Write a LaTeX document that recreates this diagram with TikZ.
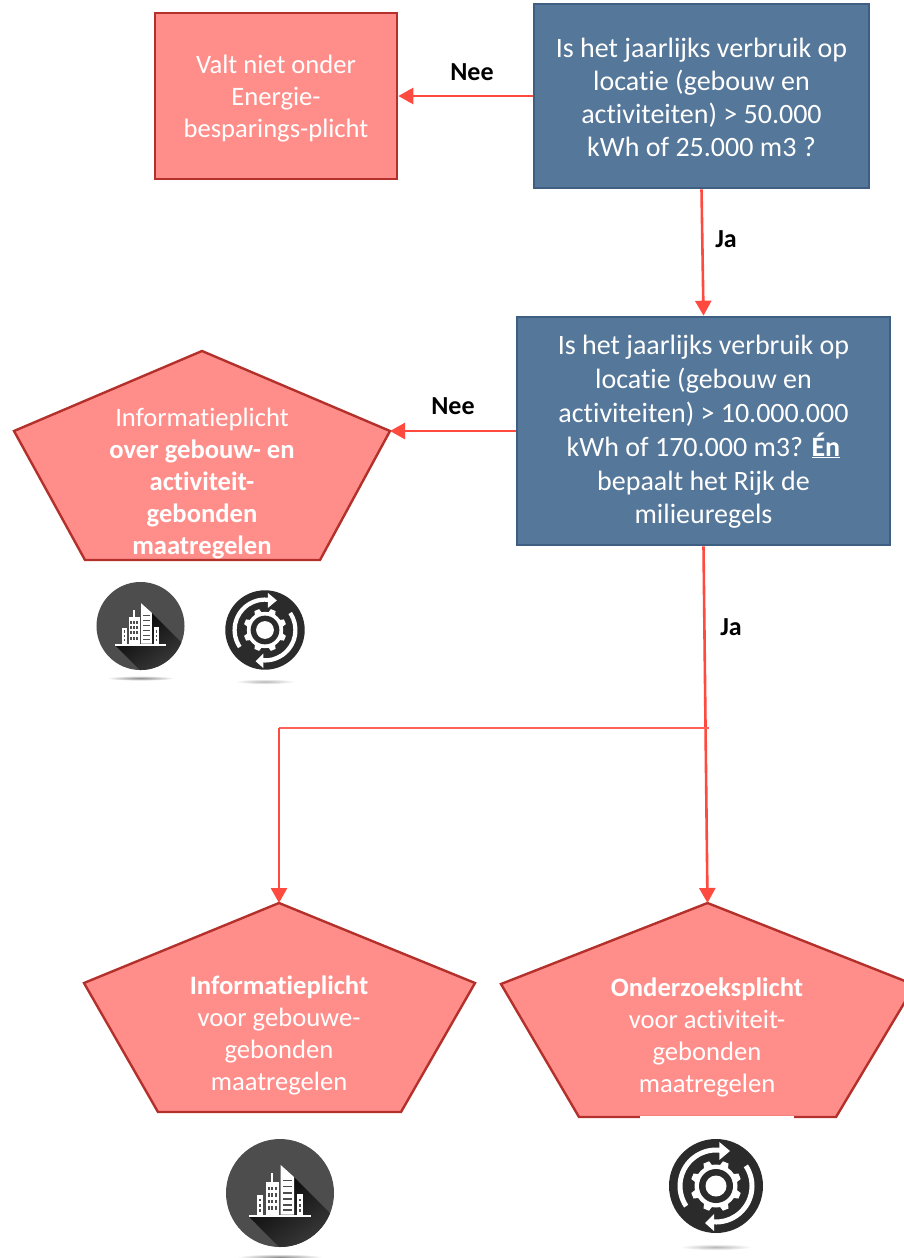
\documentclass[tikz,border=0pt]{standalone}
\usepackage{fontspec}
\setmainfont{Carlito}[Ligatures=NoCommon]
\usetikzlibrary{arrows.meta,calc}
\definecolor{redfill}{HTML}{FF8E8A}
\definecolor{redline}{HTML}{B3302B}
\definecolor{bluefill}{HTML}{557799}
\definecolor{blueline}{HTML}{3F5F82}
\definecolor{arrowred}{HTML}{FF4A40}
\definecolor{branchred}{HTML}{FF6058}
\definecolor{iconbldg}{HTML}{4D4D4D}
\definecolor{icongear}{HTML}{2B2B2B}
\tikzset{
  x=1pt,y=-1pt,
  redbox/.style={draw=redline,fill=redfill,line width=2.6pt,inner sep=0pt},
  bluebox/.style={draw=blueline,fill=bluefill,line width=2.6pt,inner sep=0pt},
  penta/.style={draw=redline,fill=redfill,line width=2.4pt,line join=miter},
  boxtext/.style={text=white,align=center,inner sep=0pt},
  pentatext/.style={text=white,align=center,inner sep=0pt,font=\fontsize{26.6}{32}\selectfont},
  flow/.style={draw=arrowred,line width=2.6pt,-{Triangle[length=15pt,width=16pt]}},
  branch/.style={draw=branchred,line width=2pt},
  answer/.style={font=\fontsize{26}{30}\selectfont\bfseries,text=black,inner sep=0pt},
  pics/bldg/.style={code={
    \shade[inner color=black!45,outer color=white] (0,64) ellipse (42 and 3);
    \fill[iconbldg] (0,0) circle (54);
    \begin{scope}
      \clip (0,0) circle (54);
      \shade[left color=black!90!iconbldg,right color=iconbldg,shading angle=35]
        (-30.7,24) -- (14,24) -- (14,-16) -- (70,40) -- (25,80) -- cycle;
    \end{scope}
    \fill[white] (-30.7,21.5) rectangle (30.7,24);
    \fill[white] (0.7,-28) -- (14,-16) -- (14,21.5) -- (0.7,21.5) -- cycle;
    \foreach \yy in {-13.5,-7.5,-1,5,11,16}{\fill[iconbldg] (3.3,\yy) rectangle (11.7,\yy+1.6);}
    \fill[white] (-14.3,-11) rectangle (-1,21.5);
    \fill[white] (-9,-20) rectangle (-7,-11);
    \foreach \xx in {-12.4,-8.7,-5}{\foreach \yy in {-6.5,0,6.5,13}{\fill[iconbldg] (\xx,\yy) rectangle (\xx+2,\yy+3.8);}}
    \fill[white] (-23.3,2.3) rectangle (-16.7,21.5);
    \fill[white] (16.7,1.3) rectangle (23.3,21.5);
    \foreach \xx in {-20.8,19}{\foreach \yy in {5.5,11,16}{\fill[iconbldg] (\xx,\yy) rectangle (\xx+1.8,\yy+2.6);}}
  }},
  pics/gear/.style={code={
    \begin{scope}[y=1pt]
    \shade[inner color=black!28,outer color=white] (0,-61) ellipse (36 and 3);
    \fill[icongear] (0,0) circle (47);
    \fill[white] (214:33.5) arc[start angle=214,end angle=80,radius=33.5] -- (80:38.5) arc[start angle=80,end angle=214,radius=38.5] -- cycle;
    \fill[white] (3.3,44) -- (14,35) -- (3.3,26) -- cycle;
    \fill[white] (34:33.5) arc[start angle=34,end angle=-95,radius=33.5] -- (-95:38.5) arc[start angle=-95,end angle=34,radius=38.5] -- cycle;
    \fill[white] (-2,-45) -- (-11,-37) -- (-2,-28) -- cycle;
    \fill[white] (0,0) circle (21.5);
    \foreach \aa in {0,45,...,315}{\fill[white,rotate=\aa+22.5] (-4.5,20) -- (-3,25.5) -- (3,25.5) -- (4.5,20) -- cycle;}
    \fill[icongear] (0,0) circle (17);
    \fill[white] (0,0) circle (10.5);
    \end{scope}
  }}
}
\begin{document}
\begin{tikzpicture}
\clip (0,0) rectangle (904,1258);
\fill[white] (0,0) rectangle (904,1258);
% boxes
\node[redbox,minimum width=242pt,minimum height=166pt] (noplicht) at (276,96) {};
\node[boxtext,font=\fontsize{26.6}{32}\selectfont] (noplichttext) at (276,99) {Valt niet onder\\Energie-\\besparings-plicht};
\node[bluebox,minimum width=335pt,minimum height=184pt] (q1) at (701.5,96) {};
\node[boxtext,font=\fontsize{28}{33}\selectfont] (q1text) at (701.5,97) {Is het jaarlijks verbruik op\\locatie (gebouw en\\activiteiten) > 50.000\\kWh of 25.000 m3 ?};
\node[bluebox,minimum width=373pt,minimum height=228pt] (q2) at (703.5,431) {};
\node[boxtext,font=\fontsize{28}{33.8}\selectfont] (q2text) at (703.5,432) {Is het jaarlijks verbruik op\\locatie (gebouw en\\activiteiten) > 10.000.000\\kWh of 170.000 m3? \underline{\textbf{Én}}\\bepaalt het Rijk de\\milieuregels};
% pentagons
\coordinate (p1top) at (202,351);
\coordinate (p1right) at (390,431);
\draw[penta] (p1top) -- (p1right) -- (320,560) -- (85,560) -- (14,431) -- cycle;
\node[pentatext] (p1) at (202,484) {Informatieplicht\\\textbf{over gebouw- en}\\\textbf{activiteit-}\\\textbf{gebonden}\\\textbf{maatregelen}};
\coordinate (p2top) at (279,903);
\draw[penta] (p2top) -- (475,983) -- (401,1112) -- (158,1112) -- (84,983) -- cycle;
\node[pentatext] (p2) at (279,1035.5) {\textbf{Informatieplicht}\\voor gebouwe-\\gebonden\\maatregelen};
\coordinate (p3top) at (707.5,903);
\draw[penta] (p3top) -- (915,985) -- (836,1117) -- (579,1117) -- (501,984) -- cycle;
\fill[white] (640,1116) rectangle (794,1119);
\node[pentatext] (p3) at (707,1037.5) {\textbf{Onderzoeksplicht}\\voor activiteit-\\gebonden\\maatregelen};
% connectors
\draw[flow] (q1.west) -- (noplicht.east);
\draw[flow] (q1.south) -- (q2.north);
\draw[flow] (q2.west) -- (p1right);
\draw[flow] (q2.south) -- (p3top);
\coordinate (split) at ($(q2.south)!0.5084!(p3top)+(3,0)$);
\coordinate (corner) at (p2top |- split);
\draw[branch] (split) -- (corner);
\draw[flow] (corner) -- (p2top);
% labels
\node[answer] (nee1) at (472,72) {Nee};
\node[answer] (ja1) at (726,239) {Ja};
\node[answer] (nee2) at (453,406) {Nee};
\node[answer] (ja2) at (731,627) {Ja};
% icons
\pic[scale=0.815] at (140.5,626) {bldg};
\pic[scale=0.845] at (265,630) {gear};
\pic at (280,1193) {bldg};
\pic at (716,1186) {gear};
\end{tikzpicture}
\end{document}
